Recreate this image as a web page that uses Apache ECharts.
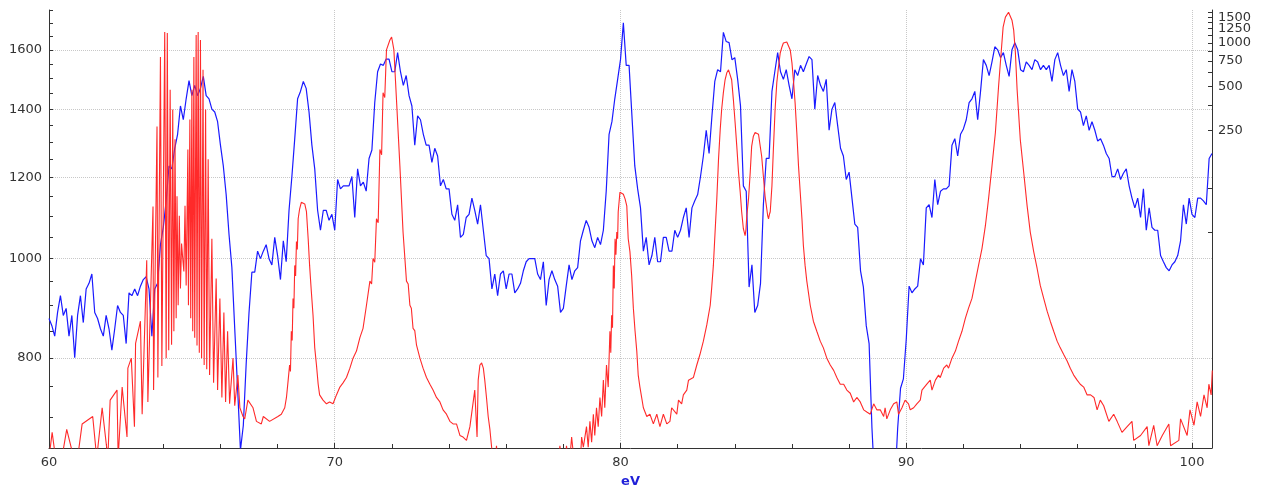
<!DOCTYPE html>
<html><head><meta charset="utf-8">
<script src="https://cdn.jsdelivr.net/npm/echarts@6/dist/echarts.min.js"></script>
<style>html,body{margin:0;padding:0;background:#fff}#c{width:1265px;height:493px}</style>
</head><body><div id="c"></div>
<script>
// ---- data ----
const xLabelValues = [60, 70, 80, 90, 100];
const xMinorTickStep = 2;
const leftLabels = [800, 1000, 1200, 1400, 1600];
const leftTicks = [700, 750, 800, 850, 900, 950, 1000, 1050, 1100, 1150, 1200, 1250, 1300, 1350, 1400, 1450, 1500, 1550, 1600, 1650, 1700, 1750];
const rightLabels = [250, 500, 750, 1000, 1250, 1500];
const rightTicks = [50, 100, 250, 375, 500, 625, 750, 875, 1000, 1125, 1250, 1375, 1500, 1625];

const blueStart = 60.0;
const blueStep = 0.1;
const blueValues = [
874,860,840,886,920,880,894,840,880,800,
880,920,866,934,946,966,886,874,854,840,
880,854,814,854,900,886,880,826,926,920,
934,920,940,954,960,934,840,934,946,1032,
1073,1139,1232,1224,1282,1323,1410,1367,1433,1493,
1443,1477,1443,1467,1507,1443,1433,1400,1391,1361,
1291,1232,1155,1056,980,854,747,650,687,789,
886,970,970,1017,1000,1017,1032,1000,986,1049,
1007,954,1041,993,1115,1203,1310,1433,1457,1490,
1467,1391,1291,1224,1115,1066,1115,1115,1090,1105,
1066,1195,1170,1178,1178,1178,1203,1097,1224,1178,
1188,1164,1253,1277,1421,1523,1550,1545,1567,1567,
1523,1523,1590,1523,1477,1510,1443,1410,1291,1379,
1367,1323,1291,1291,1242,1282,1260,1178,1195,1170,
1170,1105,1090,1129,1049,1056,1097,1105,1146,1115,
1081,1129,1066,1007,1000,934,966,920,966,973,
934,966,966,926,934,946,973,993,1000,1000,
1000,966,954,993,900,954,973,954,940,886,
894,940,986,954,973,980,1041,1066,1090,1073,
1041,1025,1049,1032,1066,1164,1323,1361,1433,1497,
1565,1700,1545,1545,1379,1232,1170,1121,1017,1049,
986,1007,1049,993,993,1049,1049,1017,1017,1066,
1049,1066,1097,1121,1049,1121,1139,1155,1203,1260,
1335,1267,1379,1490,1530,1523,1664,1630,1626,1565,
1572,1497,1410,1178,1164,938,986,886,900,946,
1129,1253,1253,1457,1523,1590,1523,1497,1530,1477,
1433,1530,1510,1545,1523,1550,1576,1565,1400,1510,
1477,1457,1497,1335,1400,1421,1349,1282,1260,1195,
1215,1146,1081,1073,973,938,860,826,683,600,
600,600,600,600,600,600,600,683,747,763,
834,940,926,934,940,1000,986,1121,1129,1097,
1195,1129,1164,1170,1170,1178,1291,1310,1260,1323,
1339,1367,1421,1433,1457,1367,1457,1565,1545,1510,
1557,1611,1600,1572,1590,1545,1507,1600,1626,1600,
1530,1523,1557,1545,1530,1565,1557,1530,1545,1530,
1545,1490,1565,1590,1545,1510,1530,1457,1530,1490,
1400,1391,1349,1379,1335,1361,1335,1303,1310,1291,
1267,1253,1203,1203,1224,1195,1212,1224,1178,1146,
1121,1146,1097,1170,1066,1121,1073,1066,1066,1007,
993,980,973,986,993,1007,1041,1129,1081,1146,
1105,1097,1146,1146,1139,1129,1253,1267
];

const redEv = [
60.00,60.11,60.23,60.45,60.62,60.83,61.00,61.16,61.53,61.67,61.86,62.06,62.14,62.38,62.42,62.56,62.73,62.76,62.88,62.99,
63.03,63.20,63.26,63.42,63.46,63.64,63.66,63.78,63.81,63.90,63.95,64.05,64.10,64.14,64.19,64.24,64.29,64.33,64.37,64.41,
64.45,64.48,64.52,64.56,64.60,64.64,64.68,64.72,64.76,64.80,64.86,64.88,64.93,64.96,65.00,65.03,65.07,65.10,65.15,65.18,
65.22,65.26,65.30,65.34,65.39,65.43,65.48,65.52,65.57,65.62,65.70,65.76,65.85,65.90,65.98,66.05,66.12,66.18,66.25,66.32,
66.44,66.50,66.61,66.68,66.79,66.85,66.96,67.14,67.26,67.43,67.50,67.72,68.01,68.13,68.25,68.31,68.37,68.42,68.45,68.48,
68.51,68.54,68.57,68.60,68.63,68.66,68.69,68.72,68.77,68.83,68.89,68.95,69.01,69.07,69.10,69.12,69.15,69.18,69.21,69.24,
69.27,69.30,69.33,69.36,69.39,69.42,69.47,69.59,69.71,69.82,69.94,70.06,70.18,70.29,70.41,70.53,70.64,70.76,70.88,70.99,
71.11,71.23,71.29,71.34,71.40,71.46,71.52,71.58,71.64,71.69,71.75,71.81,71.93,71.99,72.07,72.16,72.22,72.28,72.33,72.39,
72.45,72.51,72.57,72.63,72.68,72.74,72.80,72.86,72.92,72.98,73.09,73.21,73.33,73.44,73.56,73.68,73.79,73.91,74.03,74.14,
74.26,74.38,74.49,74.61,74.73,74.90,74.98,75.02,75.08,75.14,75.20,75.25,75.31,75.37,75.43,75.49,75.60,75.66,75.72,77.80,
77.88,77.95,78.05,78.11,78.20,78.29,78.40,78.60,78.64,78.70,78.81,78.87,78.93,78.99,79.05,79.10,79.16,79.22,79.28,79.34,
79.40,79.45,79.51,79.57,79.63,79.66,79.69,79.72,79.75,79.78,79.81,79.84,79.87,79.90,79.92,79.98,80.04,80.10,80.16,80.22,
80.27,80.30,80.33,80.36,80.39,80.42,80.45,80.48,80.51,80.54,80.57,80.60,80.62,80.65,80.68,80.74,80.80,80.92,81.03,81.15,
81.27,81.38,81.50,81.62,81.73,81.79,81.97,82.03,82.14,82.20,82.32,82.38,82.55,82.67,82.78,82.90,83.02,83.14,83.19,83.25,
83.31,83.37,83.43,83.49,83.54,83.60,83.66,83.72,83.78,83.84,83.89,83.95,84.01,84.07,84.13,84.19,84.24,84.30,84.33,84.36,
84.39,84.42,84.48,84.54,84.59,84.65,84.71,84.77,84.83,84.89,84.94,85.00,85.06,85.12,85.15,85.18,85.21,85.24,85.30,85.35,
85.41,85.47,85.53,85.59,85.65,85.70,85.76,85.82,85.88,85.94,86.00,86.05,86.11,86.17,86.23,86.29,86.35,86.40,86.46,86.52,
86.64,86.75,86.87,86.99,87.10,87.22,87.34,87.46,87.57,87.69,87.81,87.92,88.04,88.16,88.27,88.39,88.51,88.62,88.74,88.86,
88.97,89.09,89.21,89.26,89.32,89.44,89.56,89.67,89.73,89.85,89.96,90.08,90.14,90.26,90.37,90.49,90.55,90.72,90.84,90.90,
91.02,91.13,91.19,91.31,91.42,91.48,91.60,91.72,91.83,91.95,92.07,92.18,92.30,92.42,92.53,92.65,92.77,92.88,93.00,93.12,
93.23,93.32,93.39,93.47,93.58,93.64,93.70,93.76,93.82,93.88,93.99,94.11,94.23,94.34,94.46,94.58,94.69,94.81,94.93,95.04,
95.16,95.28,95.39,95.51,95.63,95.74,95.86,95.98,96.09,96.21,96.33,96.45,96.57,96.68,96.79,96.91,97.09,97.26,97.38,97.55,
97.73,97.90,97.96,98.20,98.43,98.49,98.66,98.78,98.96,99.19,99.25,99.54,99.60,99.83,99.93,100.07,100.18,100.30,100.42,100.53,
100.59,100.67,100.71
];
const redValues = [
1.4,2.1,1.4,1.4,2.2,1.5,1.4,2.4,2.7,1.4,3.1,1.4,3.5,4.1,1.4,4.3,1.95,5.8,6.8,2.3,
8.6,12.2,2.8,32,3.4,75,4.1,266,5.0,800,6.0,1186,6.8,1167,7.7,476,8.4,348,10.4,217,
12.8,88,15.7,64.7,20.5,41.7,32.9,26.8,75.7,21.5,185,15.7,297,12.8,476,10.4,800,9.4,1131,8.3,
1186,7.4,1045,6.8,652,6.1,348,5.7,158,5.2,45,4.6,24,4.1,17.5,3.65,14,3.4,10.4,3.3,
6.8,3.2,5.2,3.1,2.7,2.6,3.5,3.1,2.5,2.4,2.7,2.5,2.7,2.8,3.1,3.65,4.8,6.1,5.5,10.4,
9,17.5,15,29.5,25,43,38,61.7,72,80,82,78,69,45,44,29.5,29,19.6,19,13.4,
13,8.0,7.8,6.1,6.0,4.5,3.8,3.5,3.3,3.4,3.3,3.8,4.3,4.6,5.0,5.8,6.8,7.6,9.4,10.9,
15.7,23,22,32.9,31,61.7,58,185,170,454,420,893,1045,1096,893,407,400,142,140,50,
49,23,22,15.7,15,10.9,10.5,8.4,8.2,6.8,5.8,5.0,4.5,4.1,3.65,3.4,3.0,2.8,2.5,2.4,
2.4,2.0,1.95,1.85,2.3,4.1,1.95,4.8,6.1,6.3,5.8,4.8,3.65,2.7,2.2,1.66,1.2,1.7,1.2,1.2,
1.7,1.2,1.2,1.7,1.2,1.95,1.2,1.4,1.95,1.66,2.3,1.66,2.5,1.8,2.8,2.0,3.1,2.3,3.65,2.7,
4.8,3.1,6.1,4.3,10.4,7.4,13.4,11,29.5,20.5,45,35,50,45,69,94,96,91,84.5,75.7,
45,45,36.7,36,25.2,25,15.0,15,10.4,10.2,7.6,7.5,5.2,5.1,4.3,3.65,3.1,2.7,2.8,2.4,
2.8,2.3,2.8,2.4,2.5,3.1,2.8,3.5,3.3,3.8,4.1,4.8,5.0,6.1,7.2,8.9,11.5,15.7,20.5,29.5,
50,84.5,158,254,348,454,557,622,652,632,557,407,284,194,129,94,69,52.7,50,47.2,
52,64.7,84.5,129,194,228,242,242,235,228,166,121,88,72,65,61.7,66,69,104,185,
348,532,684,851,936,997,1013,1013,997,893,728,557,388,242,142,94,61.7,40.4,29.5,23,
15.7,12.2,10.4,8.9,8.0,6.8,6.1,5.6,5.0,4.5,4.5,4.1,3.9,3.4,3.65,3.4,3.0,2.9,2.8,3.3,
3.0,3.0,2.7,3.1,2.6,3.0,3.3,3.4,2.8,3.1,3.5,3.3,3.0,3.1,3.3,3.5,4.1,4.5,4.8,4.1,
4.8,5.2,5.0,5.8,6.1,5.8,6.8,7.6,8.9,10.4,12.8,15.0,17.5,23,29.5,38.5,55.3,84.5,142,242,
499,851,1282,1500,1620,1597,1430,1222,851,476,217,129,75.7,50,36.7,28.1,21.5,17.5,14.3,12.2,
10.4,8.9,8.0,7.2,6.5,5.8,5.2,4.8,4.5,4.3,3.8,3.8,3.65,3.0,3.5,3.2,2.5,2.8,2.5,2.1,
2.3,2.5,1.85,2.0,2.3,1.7,2.35,1.7,2.0,2.4,1.7,1.85,2.6,2.0,3.0,2.35,3.4,2.7,3.8,3.1,
4.5,3.8,5.6
];

// ---- chart ----
const blueData = blueValues.map((v, i) => [+(blueStart + i * blueStep).toFixed(2), v]);
const redData = redEv.map((x, i) => [x, redValues[i]]);
// split right labels over two overlaid axes so that close labels (1250/1500) are both drawn
const rightLabelsA = rightLabels.filter((v, i) => i % 2 === 0);
const rightLabelsB = rightLabels.filter((v, i) => i % 2 === 1);

const FONT = 'DejaVu Sans';
const AX = '#333333';
const xMin = 60, xMax = 100.7;
const lMin = 653, lMax = 1750;
const rMin = 1.64, rMax = 1680;
const labelStyle = {show: true, color: AX, fontSize: 13, fontFamily: FONT, hideOverlap: false,
  showMinLabel: true, showMaxLabel: true, formatter: v => String(Math.round(v))};

const chart = echarts.init(document.getElementById('c'), null, {renderer: 'canvas'});
chart.setOption({
  animation: false,
  backgroundColor: '#ffffff',
  grid: {left: 49, right: 53, top: 10, bottom: 42, containLabel: false},
  xAxis: [
    {
      type: 'value', min: xMin, max: xMax, interval: 10, position: 'bottom',
      name: 'eV', nameLocation: 'middle', nameGap: 27,
      nameTextStyle: {color: '#1f1fd8', fontWeight: 'bold', fontSize: 13, fontFamily: FONT},
      axisLine: {show: true, lineStyle: {color: AX, width: 1}},
      axisTick: {show: true, inside: true, length: 5, lineStyle: {color: AX}},
      axisLabel: Object.assign({}, labelStyle, {margin: 8, customValues: xLabelValues}),
      splitLine: {show: true, lineStyle: {color: '#c8c8c8', type: 'dotted', width: 1}}
    },
    {
      type: 'value', min: xMin, max: xMax, interval: xMinorTickStep, position: 'bottom',
      axisLine: {show: false},
      axisTick: {show: true, inside: true, length: 4, lineStyle: {color: AX}},
      axisLabel: {show: false},
      splitLine: {show: false}
    }
  ],
  yAxis: [
    {
      type: 'log', logBase: 10, min: lMin, max: lMax, position: 'left',
      axisLine: {show: true, lineStyle: {color: AX, width: 1}},
      axisTick: {show: true, inside: true, length: 4, customValues: leftTicks, lineStyle: {color: AX}},
      axisLabel: Object.assign({}, labelStyle, {margin: 7, customValues: leftLabels}),
      splitLine: {show: false}
    },
    {
      type: 'log', logBase: 10, min: lMin, max: lMax, position: 'left',
      axisLine: {show: false},
      axisTick: {show: false, customValues: leftLabels},
      axisLabel: {show: false, customValues: leftLabels},
      splitLine: {show: true, lineStyle: {color: '#c8c8c8', type: 'dotted', width: 1}}
    },
    {
      type: 'log', logBase: 10, min: rMin, max: rMax, position: 'right',
      axisLine: {show: true, onZero: false, lineStyle: {color: AX, width: 1}},
      axisTick: {show: true, inside: true, length: 4, customValues: rightTicks, lineStyle: {color: AX}},
      axisLabel: Object.assign({}, labelStyle, {margin: 6, customValues: rightLabelsA}),
      splitLine: {show: false}
    },
    {
      type: 'log', logBase: 10, min: rMin, max: rMax, position: 'right',
      axisLine: {show: false, onZero: false},
      axisTick: {show: false, customValues: rightLabelsB},
      axisLabel: Object.assign({}, labelStyle, {margin: 6, customValues: rightLabelsB}),
      splitLine: {show: false}
    }
  ],
  series: [
    {
      type: 'line', name: 'blue', xAxisIndex: 0, yAxisIndex: 0, data: blueData,
      showSymbol: false, symbol: 'none', smooth: false, clip: true,
      lineStyle: {color: '#1a1aff', width: 1.2}, z: 2
    },
    {
      type: 'line', name: 'red', xAxisIndex: 0, yAxisIndex: 2, data: redData,
      showSymbol: false, symbol: 'none', smooth: false, clip: true,
      lineStyle: {color: '#ff2a2a', width: 1.1}, z: 3
    }
  ]
});
</script>
</body></html>
